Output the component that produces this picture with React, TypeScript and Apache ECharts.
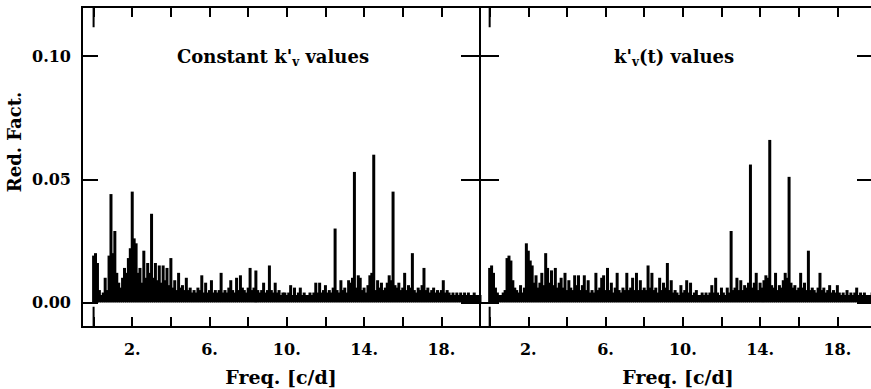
import React, { useEffect, useRef } from "react";
import * as echarts from "echarts";

// Frequency grid step (c/d); samples run from 0.0 to 20.0
const FREQ_STEP = 0.1;

// Reduction factor (in units of 0.001): constant k'v values
const constantValuesMilli = [
  19, 20, 16, 5, 3, 4, 10, 5, 19, 44,
  20, 29, 12, 8, 6, 10, 14, 12, 18, 22,
  45, 26, 24, 12, 14, 8, 21, 10, 16, 12,
  36, 10, 16, 9, 15, 8, 15, 9, 14, 7,
  18, 6, 9, 5, 12, 6, 7, 5, 10, 5,
  6, 4, 5, 4, 6, 5, 11, 4, 8, 4,
  5, 9, 4, 5, 4, 5, 12, 4, 5, 4,
  6, 9, 5, 4, 10, 5, 11, 6, 5, 4,
  6, 14, 5, 6, 13, 5, 4, 5, 8, 4,
  5, 15, 5, 4, 8, 4, 5, 3, 4, 4,
  3, 4, 7, 3, 6, 3, 4, 6, 3, 4,
  3, 3, 4, 3, 4, 8, 4, 8, 4, 5,
  7, 4, 5, 4, 6, 30, 5, 4, 9, 5,
  6, 4, 9, 8, 10, 53, 6, 11, 10, 5,
  6, 4, 7, 11, 12, 60, 5, 9, 6, 8,
  5, 6, 8, 11, 9, 45, 7, 6, 8, 5,
  6, 12, 5, 7, 6, 20, 5, 4, 6, 5,
  7, 14, 5, 6, 4, 5, 6, 4, 5, 4,
  5, 9, 4, 5, 4, 3, 4, 3, 4, 3,
  4, 3, 4, 3, 4, 3, 3, 4, 3, 3,
  3,
];

// Reduction factor (in units of 0.001): k'v(t) values
const timeDepValuesMilli = [
  14, 15, 12, 6, 4, 3, 3, 4, 5, 18,
  19, 17, 9, 6, 5, 4, 7, 4, 6, 24,
  21, 17, 15, 8, 11, 6, 8, 12, 7, 20,
  14, 8, 13, 7, 14, 6, 8, 10, 6, 12,
  5, 9, 6, 5, 11, 7, 11, 5, 7, 11,
  5, 9, 4, 5, 4, 12, 5, 6, 10, 11,
  5, 14, 5, 8, 4, 6, 12, 5, 4, 6,
  5, 12, 5, 6, 10, 5, 12, 5, 9, 5,
  6, 5, 15, 6, 12, 5, 6, 4, 10, 5,
  8, 6, 16, 5, 9, 4, 5, 4, 3, 7,
  4, 5, 9, 4, 8, 3, 4, 5, 3, 3,
  4, 3, 4, 3, 4, 7, 4, 10, 4, 3,
  6, 4, 3, 6, 4, 29, 5, 6, 10, 5,
  9, 5, 7, 6, 8, 56, 6, 8, 12, 5,
  8, 6, 9, 11, 10, 66, 7, 6, 12, 5,
  7, 6, 9, 12, 10, 51, 8, 6, 7, 5,
  6, 12, 6, 8, 5, 21, 5, 6, 5, 4,
  6, 12, 5, 6, 4, 5, 7, 4, 5, 4,
  7, 4, 3, 4, 3, 5, 3, 4, 3, 4,
  6, 3, 4, 3, 4, 3, 3, 3, 4, 3,
  3,
];

const xTickValues = [0, 2, 4, 6, 8, 10, 12, 14, 16, 18, 20];
const xLabelValues = [2, 6, 10, 14, 18];
const yTickValues = [0, 0.05, 0.1];
const Y_MIN = -0.01;
const Y_MAX = 0.12;
// length of the longer tick marking f = 0, in y-axis units
const ZERO_TICK_SPAN = 0.0082;
const zeroTickData = [
  [0, Y_MAX],
  [0, Y_MAX - ZERO_TICK_SPAN],
  [0, null],
  [0, Y_MIN],
  [0, Y_MIN + ZERO_TICK_SPAN],
];

const FONT = "DejaVu Serif";
const FS_TICK = 16;
const FS_NAME = 19;
const FS_TITLE = 18;

function toPairs(vals: number[]) {
  return vals.map((v, i) => [Number((i * FREQ_STEP).toFixed(1)), v / 1000]);
}

function buildXAxes(gridIndex: number, min: number, max: number) {
  const base = {
    gridIndex,
    type: "value" as const,
    min,
    max,
    splitLine: { show: false },
    axisLine: { show: false, onZero: false },
  };
  return [
    {
      ...base,
      position: "bottom",
      axisTick: { show: true, inside: true, length: 10, customValues: xTickValues, lineStyle: { color: "#000", width: 2 } },
      axisLabel: {
        show: true,
        customValues: xLabelValues,
        formatter: (v: number) => `${v}.`,
        color: "#000",
        fontFamily: FONT,
        fontWeight: "bold",
        fontSize: FS_TICK,
        margin: 14,
      },
      name: "Freq. [c/d]",
      nameLocation: "middle",
      nameGap: 40,
      nameTextStyle: { color: "#000", fontFamily: FONT, fontWeight: "bold", fontSize: FS_NAME },
    },
    {
      ...base,
      position: "top",
      axisTick: { show: true, inside: true, length: 10, customValues: xTickValues, lineStyle: { color: "#000", width: 2 } },
      axisLabel: { show: false },
    },
  ];
}

function buildYAxes(gridIndex: number, withLabels: boolean) {
  const base = {
    gridIndex,
    type: "value" as const,
    min: Y_MIN,
    max: Y_MAX,
    splitLine: { show: false },
    axisLine: { show: false, onZero: false },
  };
  return [
    {
      ...base,
      position: "left",
      axisTick: { show: true, inside: true, length: withLabels ? 16 : 19, customValues: yTickValues, lineStyle: { color: "#000", width: 2 } },
      axisLabel: withLabels
        ? {
            show: true,
            customValues: yTickValues,
            formatter: (v: number) => v.toFixed(2),
            color: "#000",
            fontFamily: FONT,
            fontWeight: "bold",
            fontSize: FS_TICK,
            margin: 11,
          }
        : { show: false },
    },
    {
      ...base,
      position: "right",
      axisTick: { show: true, inside: true, length: 19, customValues: yTickValues, lineStyle: { color: "#000", width: 2 } },
      axisLabel: { show: false },
    },
  ];
}

function zeroTickSeries(xAxisIndex: number, yAxisIndex: number) {
  return {
    type: "line",
    xAxisIndex,
    yAxisIndex,
    data: zeroTickData,
    showSymbol: false,
    symbol: "none",
    connectNulls: false,
    clip: false,
    silent: true,
    z: 5,
    lineStyle: { color: "#000", width: 2 },
  };
}

export default function App() {
  const ref = useRef<HTMLDivElement>(null);

  useEffect(() => {
    if (!ref.current) return;
    const chart = echarts.init(ref.current, null, { renderer: "svg" });
    const titleRich = {
      a: { fontFamily: FONT, fontWeight: "bold", fontSize: FS_TITLE, color: "#000", lineHeight: 24, verticalAlign: "middle" },
      s: { fontFamily: FONT, fontWeight: "bold", fontSize: 12, color: "#000", lineHeight: 24, verticalAlign: "bottom" },
    };
    chart.setOption({
      animation: false,
      backgroundColor: "#fff",
      grid: [
        { left: 82, top: 7, width: 398, height: 320, show: true, borderColor: "#000", borderWidth: 2, backgroundColor: "transparent", outerBoundsMode: "none", containLabel: false },
        { left: 480, top: 7, width: 396, height: 320, show: true, borderColor: "#000", borderWidth: 2, backgroundColor: "transparent", outerBoundsMode: "none", containLabel: false },
      ],
      xAxis: [...buildXAxes(0, -0.6, 20), ...buildXAxes(1, -0.5, 20)],
      yAxis: [...buildYAxes(0, true), ...buildYAxes(1, false)],
      series: [
        {
          type: "bar",
          xAxisIndex: 0,
          yAxisIndex: 0,
          data: toPairs(constantValuesMilli),
          barWidth: 3,
          itemStyle: { color: "#000" },
          silent: true,
        },
        {
          type: "bar",
          xAxisIndex: 2,
          yAxisIndex: 2,
          data: toPairs(timeDepValuesMilli),
          barWidth: 3,
          itemStyle: { color: "#000" },
          silent: true,
        },
        zeroTickSeries(0, 0),
        zeroTickSeries(2, 2),
      ],
      graphic: [
        {
          type: "text",
          x: 14,
          y: 142,
          rotation: Math.PI / 2,
          style: {
            text: "Red. Fact.",
            fontFamily: FONT,
            fontWeight: "bold",
            fontSize: FS_TITLE,
            fill: "#000",
            align: "center",
            verticalAlign: "middle",
          },
        },
        {
          type: "text",
          x: 177,
          y: 56,
          style: {
            text: "{a|Constant k'}{s|v}{a| values}",
            rich: titleRich,
            align: "left",
            verticalAlign: "middle",
          },
        },
        {
          type: "text",
          x: 614,
          y: 56,
          style: {
            text: "{a|k'}{s|v}{a|(t) values}",
            rich: titleRich,
            align: "left",
            verticalAlign: "middle",
          },
        },
      ],
    });
    return () => chart.dispose();
  }, []);

  return (
    <div
      ref={ref}
      style={{ position: "absolute", left: 0, top: 0, width: 871, height: 389, background: "#fff" }}
    />
  );
}
